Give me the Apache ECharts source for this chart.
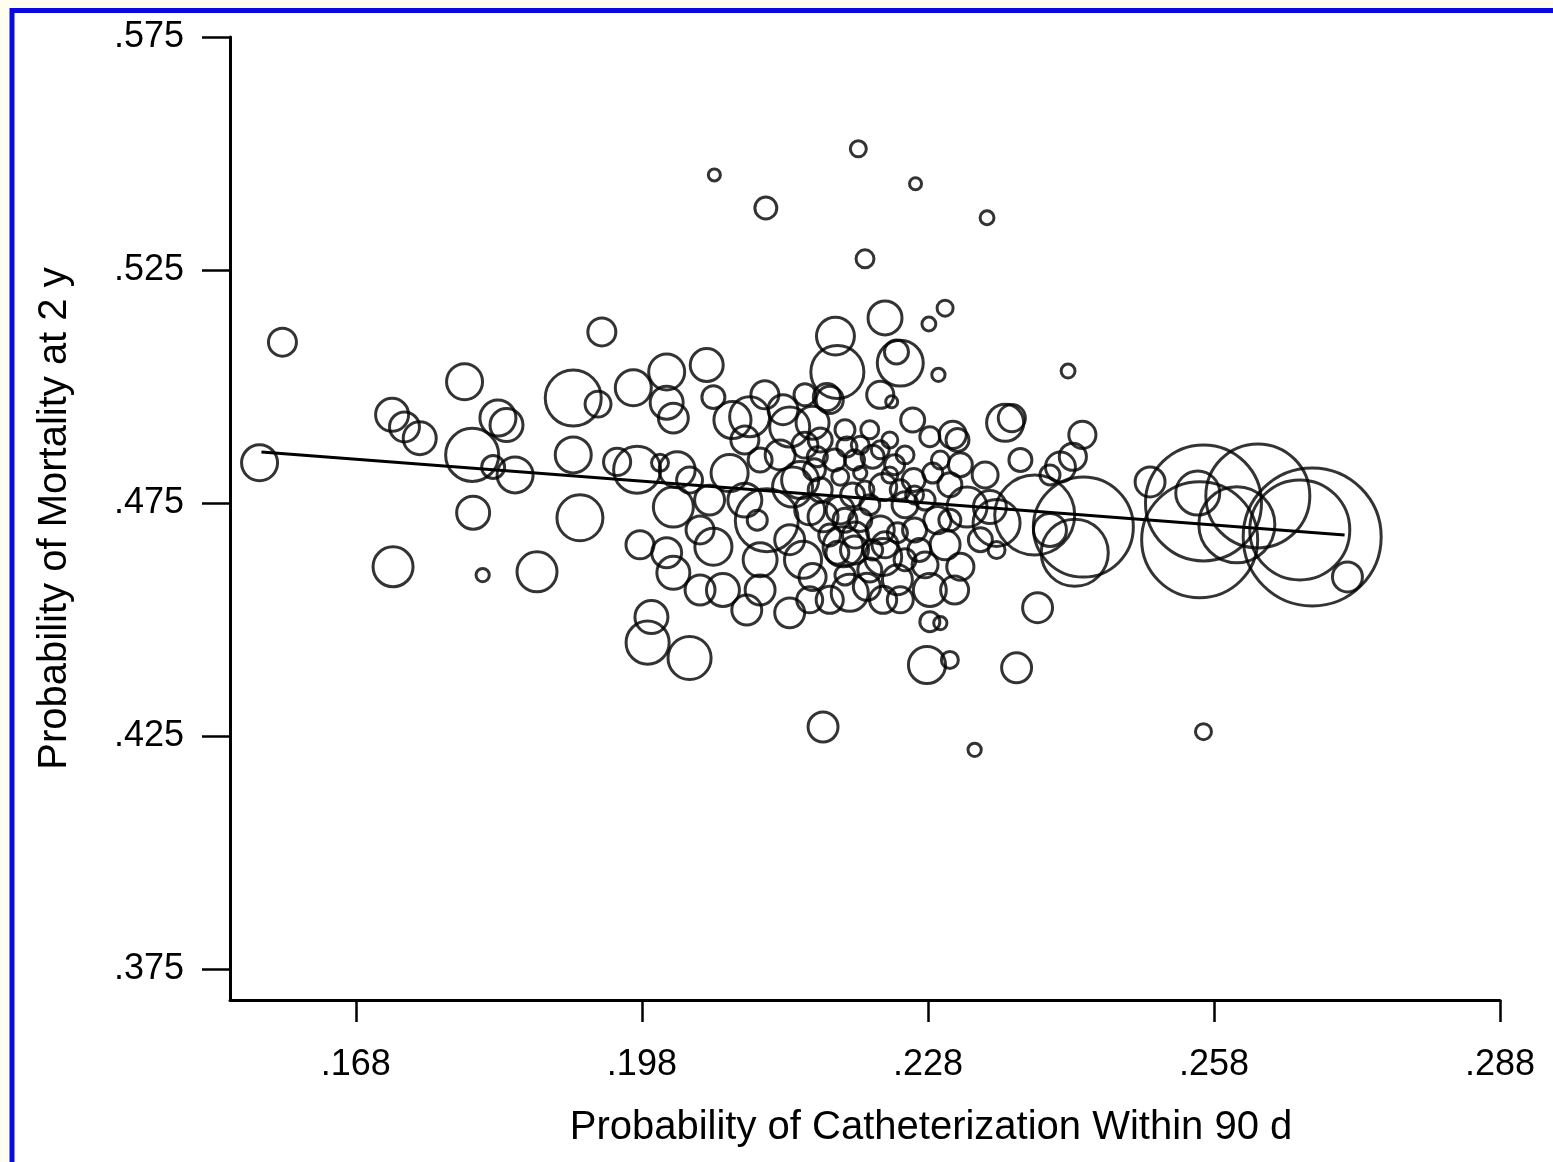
<!DOCTYPE html>
<html>
<head>
<meta charset="utf-8">
<script src="https://cdn.jsdelivr.net/npm/echarts@6/dist/echarts.min.js"></script>
<style>
html,body{margin:0;padding:0;background:#fff;}
#chart{width:1553px;height:1162px;}
</style>
</head>
<body>
<div id="chart"></div>
<script>
// Probability of catheterization within 90 d (x)
const catheterization = [
 0.2207,0.2056,0.2267,0.2110,0.2342,0.2214,0.2298,0.2281,0.2235,0.2183,
 0.1938,0.1603,0.2427,0.2291,0.2251,0.2247,0.2230,0.2242,0.2264,0.2185,
 0.2174,0.1579,0.1718,0.1731,0.1747,0.1794,0.1802,0.1829,0.1838,0.1824,
 0.1847,0.1803,0.1719,0.1813,0.1870,0.1908,0.1934,0.1908,0.1915,0.1954,
 0.1971,0.2006,0.2048,0.2006,0.2013,0.1975,0.1999,0.2017,0.2013,0.2006,
 0.2013,0.1990,0.1986,0.2030,0.2055,0.2075,0.2093,0.2072,0.2111,0.2101,
 0.2051,0.2055,0.2065,0.2090,0.2135,0.2149,0.2138,0.2135,0.2128,0.2191,
 0.2198,0.2233,0.2282,0.2282,0.2293,0.2233,0.2216,0.2282,0.2306,0.2159,
 0.2177,0.2195,0.2222,0.2188,0.2209,0.2146,0.2233,0.2265,0.2285,0.2209,
 0.2248,0.2290,0.2321,0.2185,0.2222,0.2271,0.2314,0.2177,0.2159,0.2248,
 0.2170,0.2164,0.2361,0.2368,0.2377,0.2311,0.2442,0.2432,0.2419,0.2408,
 0.2443,0.2434,0.2392,0.2408,0.2352,0.2352,0.2345,0.2395,0.2279,0.2303,
 0.2373,0.2170,0.2329,0.2569,0.2513,0.2569,0.2565,0.2563,0.2626,0.2683,
 0.2670,0.2720,0.2604,0.2167,0.2193,0.2209,0.2230,0.2245,0.2256,0.2201,
 0.2219,0.2188,0.2256,0.2277,0.2303,0.2230,0.2204,0.2266,0.2298,0.2167,
 0.2125,0.2104,0.2151,0.2182,0.2203,0.2214,0.2240,0.2251,0.2266,0.2193,
 0.2177,0.2235,0.2256,0.2219,0.2193,0.2277,0.2303,0.2314,0.2293,0.2219,
 0.2240,0.2156,0.2135,0.2104,0.2088,0.2041,0.2030,0.2088,0.2109,0.2151,
 0.2161,0.2203,0.2251,0.2308,0.2335,0.2340,0.2041,0.1978,0.2104,0.2156
];
// Probability of mortality at 2 y (y)
const mortality = [
 0.5510,0.5454,0.5435,0.5383,0.5362,0.5274,0.5168,0.5134,0.5147,0.5108,
 0.5117,0.5095,0.5033,0.5025,0.5050,0.5074,0.4982,0.4967,0.4928,0.5031,
 0.4977,0.4836,0.4939,0.4913,0.4889,0.5010,0.4853,0.4932,0.4917,0.4827,
 0.4810,0.4729,0.4613,0.4595,0.4602,0.4975,0.4962,0.4853,0.4718,0.4838,
 0.4997,0.5031,0.5046,0.4965,0.4932,0.4821,0.4836,0.4821,0.4741,0.4643,
 0.4600,0.4505,0.4450,0.4417,0.4977,0.4928,0.4935,0.4814,0.4713,0.4713,
 0.4756,0.4656,0.4563,0.4520,0.4514,0.4628,0.4784,0.4913,0.4950,0.4656,
 0.4557,0.4634,0.4563,0.4495,0.4492,0.4542,0.4570,0.4892,0.4896,0.4922,
 0.4971,0.4870,0.4849,0.4806,0.4814,0.4799,0.4784,0.4799,0.4814,0.4713,
 0.4686,0.4713,0.4741,0.4643,0.4649,0.4649,0.4613,0.4542,0.4591,0.4585,
 0.4720,0.4849,0.4922,0.4932,0.4842,0.4885,0.4896,0.4849,0.4827,0.4810,
 0.4698,0.4643,0.4724,0.4692,0.4707,0.4649,0.4741,0.4525,0.4402,0.4413,
 0.4396,0.4269,0.4220,0.4259,0.4795,0.4750,0.4671,0.4771,0.4765,0.4677,
 0.4692,0.4591,0.4703,0.4885,0.4907,0.4874,0.4864,0.4832,0.4853,0.4767,
 0.4746,0.4735,0.4746,0.4756,0.4789,0.4692,0.4681,0.4692,0.4660,0.4778,
 0.4853,0.4842,0.4874,0.4842,0.4842,0.4778,0.4810,0.4778,0.4767,0.4713,
 0.4681,0.4660,0.4628,0.4606,0.4595,0.4617,0.4713,0.4832,0.4842,0.4907,
 0.4885,0.4735,0.4671,0.4628,0.4756,0.4692,0.4799,0.4885,0.4982,0.4982,
 0.4821,0.4649,0.4542,0.4563,0.4671,0.4810,0.4563,0.4660,0.4563,0.4542
];
// relative hospital volume (bubble weight)
const patients = [
 16,9,9,30,12,20,16,12,72,90,
 49,49,12,11,132,36,46,9,36,176,
 46,81,68,56,68,81,176,81,68,33,
 81,68,100,11,100,196,42,81,132,46,
 81,81,68,68,56,138,18,81,100,56,
 68,68,116,116,33,86,100,86,248,25,
 56,86,68,56,56,86,100,100,56,100,
 86,86,68,25,11,46,46,25,46,68,
 46,25,33,18,11,86,46,33,25,33,
 25,46,100,33,25,33,46,46,46,56,
 56,25,86,46,33,33,46,46,56,25,
 625,281,400,68,138,18,68,56,86,18,
 56,56,11,16,56,841,841,121,676,1190,
 625,56,361,36,25,20,20,25,20,36,
 25,49,42,25,36,49,42,36,56,36,
 56,36,42,30,25,20,16,25,20,36,
 30,42,30,36,25,42,30,36,20,20,
 16,56,56,72,72,49,42,49,49,30,
 30,49,42,49,36,42,56,49,56,42
];
// fitted regression line
const fitX = [0.1581, 0.2717];
const fitY = [0.4859, 0.4681];
// tick labels
const xTicks = [0.168, 0.198, 0.228, 0.258, 0.288];
const yTicks = [0.375, 0.425, 0.475, 0.525, 0.575];

const bubbles = catheterization.map((x, i) => [x, mortality[i], patients[i]]);
const fitLine = fitX.map((x, i) => [x, fitY[i]]);
const fmt = v => Number(v).toFixed(3).replace(/^0/, '');
const FONT = '"Liberation Sans", Arial, Helvetica, sans-serif';

const chart = echarts.init(document.getElementById('chart'), null, {renderer: 'canvas'});
chart.setOption({
  animation: false,
  backgroundColor: '#ffffff',
  graphic: [
    {type: 'rect', shape: {x: 0, y: 0, width: 1553, height: 8}, style: {fill: '#fffdf0'}, silent: true},
    {type: 'rect', shape: {x: 0, y: 0, width: 10, height: 1162}, style: {fill: '#fffdf0'}, silent: true},
    {type: 'line', shape: {x1: 10, y1: 10.5, x2: 1553, y2: 10.5}, style: {stroke: '#0a0ae0', lineWidth: 5}, silent: true},
    {type: 'line', shape: {x1: 12, y1: 8, x2: 12, y2: 1162}, style: {stroke: '#0a0ae0', lineWidth: 5}, silent: true}
  ],
  grid: {left: 230, top: 37, right: 53, bottom: 162, containLabel: false},
  xAxis: {
    type: 'value',
    min: 0.1548, max: 0.288,
    name: 'Probability of Catheterization Within 90 d',
    nameLocation: 'middle',
    nameGap: 108,
    nameTextStyle: {fontFamily: FONT, fontSize: 40, color: '#000', padding: [0, 0, 0, 132]},
    axisLine: {show: true, onZero: false, lineStyle: {color: '#000', width: 3}},
    axisTick: {show: true, length: 22, lineStyle: {color: '#000', width: 2.5}, customValues: xTicks},
    axisLabel: {show: true, margin: 47, fontFamily: FONT, fontSize: 36, color: '#000', customValues: xTicks, formatter: fmt},
    splitLine: {show: false}
  },
  yAxis: {
    type: 'value',
    min: 0.3683, max: 0.575,
    name: 'Probability of Mortality at 2 y',
    nameLocation: 'middle',
    nameGap: 155,
    nameRotate: 90,
    nameTextStyle: {fontFamily: FONT, fontSize: 40, color: '#000'},
    axisLine: {show: true, onZero: false, lineStyle: {color: '#000', width: 3}},
    axisTick: {show: true, length: 28, lineStyle: {color: '#000', width: 2.5}, customValues: yTicks},
    axisLabel: {show: true, margin: 46, fontFamily: FONT, fontSize: 36, color: '#000', customValues: yTicks, formatter: fmt},
    splitLine: {show: false}
  },
  series: [
    {
      type: 'scatter',
      data: bubbles,
      symbol: 'circle',
      symbolSize: v => 4 * Math.sqrt(v[2]),
      itemStyle: {color: 'rgba(0,0,0,0)', borderColor: '#000', borderWidth: 3},
      emphasis: {disabled: true},
      silent: true
    },
    {
      type: 'line',
      data: fitLine,
      symbol: 'none',
      lineStyle: {color: '#000', width: 3},
      silent: true
    }
  ]
});
</script>
</body>
</html>
